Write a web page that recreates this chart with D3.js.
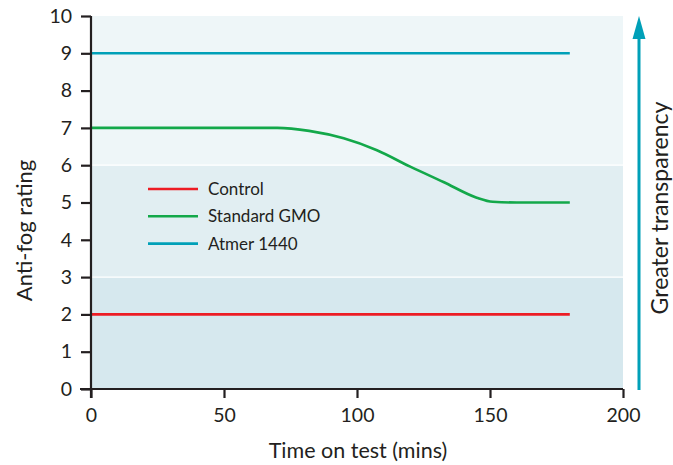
<!DOCTYPE html>
<html>
<head>
<meta charset="utf-8">
<script src="https://cdn.jsdelivr.net/npm/d3@7"></script>
<style>
  body { margin: 0; background: #fff; }
  text { font-family: Lato, "Open Sans", sans-serif; fill: #231f20; }
</style>
</head>
<body>
<script>
// data
var seriesNames = ["Control", "Standard GMO", "Atmer 1440"];
var seriesColors = ["#ed1c24", "#13a84a", "#00a0b8"];
var controlData = [[0, 2], [180, 2]];
var gmoData = [[0, 7], [70, 7], [82, 6.92], [95, 6.72], [107.5, 6.4], [120, 5.96], [132.5, 5.55], [145, 5.13], [151, 5.02], [160, 5], [180, 5]];
var atmerData = [[0, 9], [180, 9]];
var xTicks = [0, 50, 100, 150, 200];
var yTicks = [0, 1, 2, 3, 4, 5, 6, 7, 8, 9, 10];
var bands = [[0, 3, "#d6e8ee"], [3, 6, "#e1eef2"], [6, 10, "#eef6f8"]];

var margin = {top: 16, right: 50, bottom: 76, left: 91},
    width = 623 - margin.left,
    height = 389 - margin.top;

var svg = d3.select("body").append("svg")
    .attr("width", 673)
    .attr("height", 465);

var g = svg.append("g")
    .attr("transform", "translate(" + margin.left + "," + margin.top + ")");

var x = d3.scaleLinear().domain([0, 200]).range([0, width]);
var y = d3.scaleLinear().domain([0, 10]).range([height, 0]);

// background bands
g.selectAll(".band")
    .data(bands)
    .enter().append("rect")
    .attr("x", 0)
    .attr("y", function(d) { return y(d[1]); })
    .attr("width", width)
    .attr("height", function(d) { return y(d[0]) - y(d[1]); })
    .attr("fill", function(d) { return d[2]; });

// thin white separators between bands
g.selectAll(".sep")
    .data([3, 6])
    .enter().append("line")
    .attr("x1", 0).attr("x2", width)
    .attr("y1", function(d) { return y(d); })
    .attr("y2", function(d) { return y(d); })
    .attr("stroke", "#fff")
    .attr("stroke-width", 1.2);

var line = d3.line()
    .x(function(d) { return x(d[0]); })
    .y(function(d) { return y(d[1]); })
    .curve(d3.curveMonotoneX);

[controlData, gmoData, atmerData].forEach(function(data, i) {
    g.append("path")
        .datum(data)
        .attr("fill", "none")
        .attr("stroke", seriesColors[i])
        .attr("stroke-width", 2.6)
        .attr("d", line);
});

// axes
var xAxis = g.append("g")
    .attr("transform", "translate(0," + height + ")")
    .call(d3.axisBottom(x).tickValues(xTicks).tickSize(9).tickSizeOuter(0).tickPadding(10));

var yAxis = g.append("g")
    .call(d3.axisLeft(y).tickValues(yTicks).tickSize(10).tickSizeOuter(0).tickPadding(9)
        .tickFormat(function(d) { return d; }));

[xAxis, yAxis].forEach(function(a) {
    a.selectAll("path, line").attr("stroke", "#231f20").attr("stroke-width", 2.2);
    a.selectAll("text").attr("font-size", 19.5).style("font-family", "Lato, sans-serif").attr("fill", "#231f20");
});
xAxis.select(".domain").attr("d", "M-11,0H" + width);
yAxis.select(".domain").attr("d", "M0,0V" + (height + 9));

// axis titles
svg.append("text")
    .attr("x", margin.left + width / 2 + 1)
    .attr("y", 458)
    .attr("text-anchor", "middle")
    .attr("font-size", 21.5)
    .text("Time on test (mins)");

svg.append("text")
    .attr("transform", "translate(32," + (margin.top + height / 2 + 28) + ") rotate(-90)")
    .attr("text-anchor", "middle")
    .attr("font-size", 22)
    .text("Anti-fog rating");

// legend
var legend = g.append("g").attr("transform", "translate(57,173)");
seriesNames.forEach(function(name, i) {
    legend.append("line")
        .attr("x1", 0).attr("x2", 50)
        .attr("y1", i * 27.3).attr("y2", i * 27.3)
        .attr("stroke", seriesColors[i])
        .attr("stroke-width", 2.6);
    legend.append("text")
        .attr("x", 60)
        .attr("y", i * 27.3 + 6)
        .attr("font-size", 17)
        .text(name);
});

// arrow on the right
var ax = 639;
svg.append("line")
    .attr("x1", ax).attr("x2", ax)
    .attr("y1", margin.top + height + 1).attr("y2", 36)
    .attr("stroke", "#00a0b8")
    .attr("stroke-width", 3);
svg.append("path")
    .attr("d", "M" + (ax - 6.5) + ",39L" + ax + ",16L" + (ax + 6.5) + ",39Z")
    .attr("fill", "#00a0b8");

svg.append("text")
    .attr("transform", "translate(668,208) rotate(-90)")
    .attr("text-anchor", "middle")
    .attr("font-size", 23)
    .text("Greater transparency");
</script>
</body>
</html>
